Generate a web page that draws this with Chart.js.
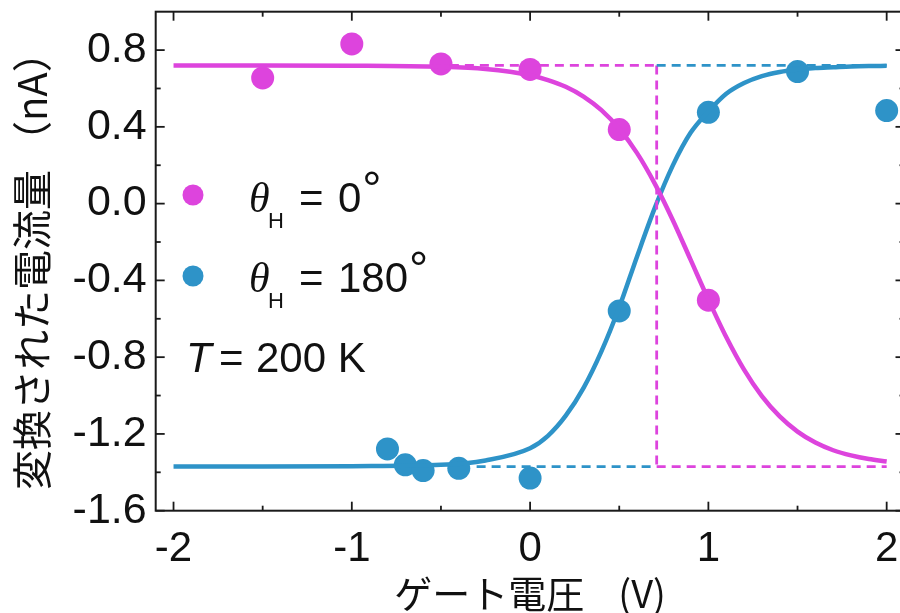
<!DOCTYPE html>
<html><head><meta charset="utf-8">
<script src="https://cdn.jsdelivr.net/npm/chart.js@4.4.1/dist/chart.umd.min.js"></script>
<style>
html,body{margin:0;padding:0;background:#fff;overflow:hidden;width:900px;height:613px;}
#wrap{position:absolute;left:0;top:0;width:920px;height:613px;}
</style></head><body>
<div id="wrap"><canvas id="c" width="920" height="613"></canvas></div>
<script>
// ---- data ----
const xTickValues = [-2, -1, 0, 1, 2];
const xMinorTicks = [-1.5, -0.5, 0.5, 1.5];
const yTickValues = [-1.6, -1.2, -0.8, -0.4, 0.0, 0.4, 0.8];
const yMinorTicks = [-1.4, -1.0, -0.6, -0.2, 0.2, 0.6];

const mag0X = [-1.5, -1, -0.5, 0, 0.5, 1];
const mag0Y = [0.655, 0.832, 0.728, 0.699, 0.386, -0.503];

const blue180X = [-0.8, -0.7, -0.6, -0.4, 0, 0.5, 1, 1.5, 2];
const blue180Y = [-1.278, -1.361, -1.391, -1.379, -1.43, -0.559, 0.476, 0.688, 0.485];

const fitX    = [-2, -1.5, -1, -0.5, -0.25, 0, 0.1, 0.2, 0.3, 0.4, 0.5, 0.6, 0.7, 0.8, 0.9, 1.0, 1.1, 1.2, 1.3, 1.4, 1.5, 1.6, 1.7, 1.8, 1.9, 2.0];
const fit0Y   = [0.72, 0.72, 0.719, 0.713, 0.701, 0.669, 0.644, 0.609, 0.558, 0.487, 0.39, 0.263, 0.103, -0.085, -0.292, -0.5, -0.695, -0.865, -1.003, -1.109, -1.188, -1.245, -1.285, -1.312, -1.331, -1.344];
const fit180Y = [-1.37, -1.37, -1.368, -1.361, -1.338, -1.275, -1.21, -1.105, -0.96, -0.77, -0.54, -0.275, -0.021, 0.198, 0.369, 0.48, 0.572, 0.628, 0.664, 0.686, 0.699, 0.707, 0.711, 0.715, 0.717, 0.718];

const satHigh = 0.72;
const satLow = -1.37;
const crossX = 0.71;
const magTopDashStart = -0.45;
const blueLowDashStart = -0.3;
const dashEnd = 2.0;

const seriesLabels = ['0', '180'];
const tempLabel = '200 K';
const xTitle = 'ゲート電圧    (V)';
const yTitle = '変換された電流量 （nA）';

// ---- styles ----
const MAG = '#DD44DD';
const BLU = '#2E93C8';
const SANS = "'Liberation Sans', Arial, sans-serif";
const CJK = "'Noto Sans CJK JP', sans-serif";

const pts = (xs, ys) => xs.map((x, i) => ({x, y: ys[i]}));

const dashDs = (data, color) => ({
  data, showLine: true, borderColor: color, borderWidth: 2.8, borderDash: [9, 6],
  pointRadius: 0, fill: false
});

const framePlugin = {
  id: 'frame',
  afterDatasetsDraw(chart) {
    const {ctx, chartArea: {left, right, top, bottom}, scales: {x, y}} = chart;
    ctx.save();
    ctx.strokeStyle = '#1a1a1a';
    ctx.lineWidth = 2;
    ctx.strokeRect(left, top, right - left, bottom - top);
    ctx.lineWidth = 1.8;
    const seg = (x1, y1, x2, y2) => { ctx.beginPath(); ctx.moveTo(x1, y1); ctx.lineTo(x2, y2); ctx.stroke(); };
    xTickValues.forEach(v => { const p = x.getPixelForValue(v); seg(p, bottom, p, bottom - 9); seg(p, top, p, top + 9); });
    xMinorTicks.forEach(v => { const p = x.getPixelForValue(v); seg(p, bottom, p, bottom - 5); seg(p, top, p, top + 5); });
    yTickValues.forEach(v => { const p = y.getPixelForValue(v); seg(left, p, left + 9, p); seg(right, p, right - 9, p); });
    yMinorTicks.forEach(v => { const p = y.getPixelForValue(v); seg(left, p, left + 5, p); seg(right, p, right - 5, p); });
    ctx.restore();
  }
};

const legendPlugin = {
  id: 'customLegend',
  afterDraw(chart) {
    const ctx = chart.ctx;
    ctx.save();
    ctx.textBaseline = 'alphabetic';
    ctx.textAlign = 'left';
    ctx.fillStyle = '#111';
    const rows = [[MAG, 195, 212, seriesLabels[0]], [BLU, 276, 292, seriesLabels[1]]];
    rows.forEach(([col, cy, base, lab]) => {
      ctx.fillStyle = col;
      ctx.beginPath(); ctx.arc(193, cy, 10.5, 0, Math.PI * 2); ctx.fill();
      ctx.fillStyle = '#111';
      ctx.font = "italic 42px 'Liberation Serif', serif";
      ctx.fillText('θ', 249, base);
      ctx.font = '22px ' + SANS;
      ctx.fillText('H', 268, base + 16);
      ctx.font = '42px ' + SANS;
      ctx.fillText('=', 299, base);
      ctx.fillText(lab, 338, base);
      const w = ctx.measureText(lab).width;
      ctx.font = '48px ' + SANS;
      ctx.fillText('°', 338 + w + 1, base - 7);
    });
    ctx.font = 'italic 42px ' + SANS;
    ctx.fillText('T', 186, 372);
    ctx.font = '42px ' + SANS;
    ctx.fillText('=', 219, 372);
    ctx.fillText(tempLabel, 256, 372);
    ctx.restore();
  }
};

Chart.defaults.color = '#111';

new Chart(document.getElementById('c'), {
  type: 'scatter',
  data: {
    datasets: [
      dashDs([{x: magTopDashStart, y: satHigh}, {x: crossX, y: satHigh}], MAG),
      dashDs([{x: crossX, y: satHigh}, {x: dashEnd, y: satHigh}], BLU),
      dashDs([{x: blueLowDashStart, y: satLow}, {x: crossX, y: satLow}], BLU),
      dashDs([{x: crossX, y: satLow}, {x: dashEnd, y: satLow}], MAG),
      dashDs([{x: crossX, y: satHigh}, {x: crossX, y: satLow}], MAG),
      { data: pts(fitX, fit0Y), showLine: true, borderColor: MAG, borderWidth: 4.5,
        cubicInterpolationMode: 'monotone', pointRadius: 0, fill: false },
      { data: pts(fitX, fit180Y), showLine: true, borderColor: BLU, borderWidth: 4.5,
        cubicInterpolationMode: 'monotone', pointRadius: 0, fill: false },
      { data: pts(mag0X, mag0Y), showLine: false, pointRadius: 11.5, pointBackgroundColor: MAG,
        pointBorderWidth: 0, borderColor: MAG },
      { data: pts(blue180X, blue180Y), showLine: false, pointRadius: 11.5, pointBackgroundColor: BLU,
        pointBorderWidth: 0, borderColor: BLU }
    ]
  },
  options: {
    responsive: false,
    animation: false,
    devicePixelRatio: 1,
    layout: { padding: { left: 0, right: 15.5, top: 11.7, bottom: 0 } },
    plugins: { legend: { display: false }, tooltip: { enabled: false } },
    scales: {
      x: {
        type: 'linear', min: -2.1, max: 2.1,
        grid: { display: false, drawTicks: false }, border: { display: false },
        afterBuildTicks: s => { s.ticks = xTickValues.map(v => ({value: v})); },
        afterFit: s => { s.height = 102.3; s.paddingLeft = 0; s.paddingRight = 0; },
        ticks: { padding: 14, font: { size: 42, family: SANS }, color: '#111',
          callback: v => String(v) , maxRotation: 0, autoSkip: false },
        title: { display: true, text: xTitle, font: { size: 38, family: CJK, lineHeight: 1 },
          color: '#111', padding: { top: 0, bottom: 0 } }
      },
      y: {
        type: 'linear', min: -1.6, max: 1.0,
        grid: { display: false, drawTicks: false }, border: { display: false },
        afterBuildTicks: s => { s.ticks = yTickValues.map(v => ({value: v})); },
        afterFit: s => { s.width = 155.7; s.paddingTop = 0; s.paddingBottom = 0; },
        ticks: { padding: 9, font: { size: 43, family: SANS }, color: '#111',
          callback: v => v.toFixed(1), autoSkip: false },
        title: { display: true, text: yTitle, font: { size: 40, family: CJK, lineHeight: 1.2 },
          color: '#111', padding: { top: 8, bottom: 0 } }
      }
    }
  },
  plugins: [framePlugin, legendPlugin]
});
</script>
</body></html>
